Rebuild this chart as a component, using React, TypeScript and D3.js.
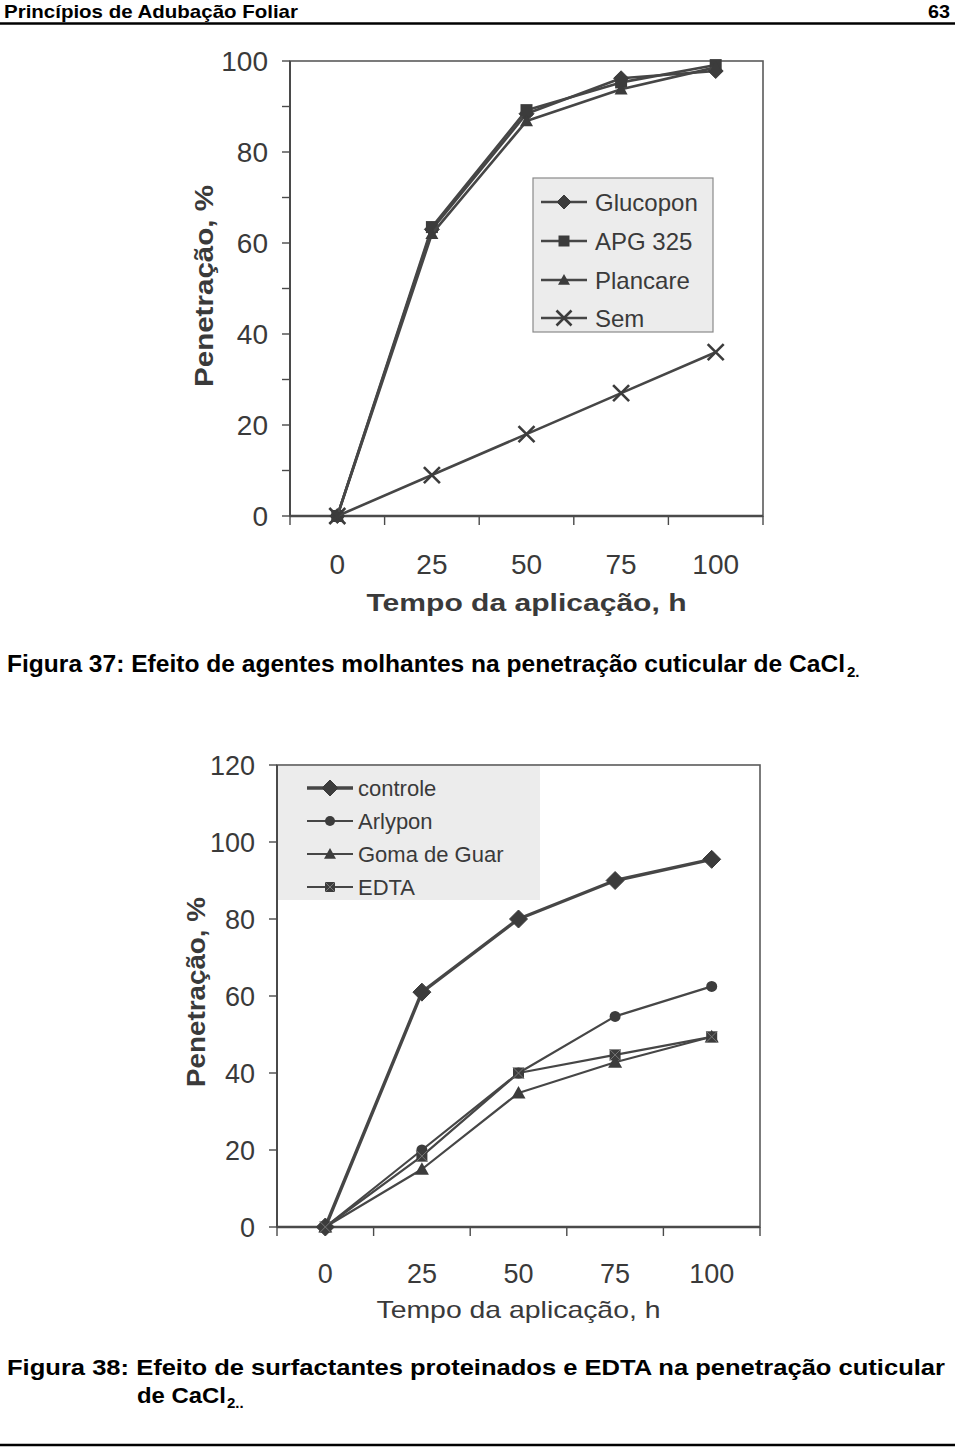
import React from "react";
import * as d3 from "d3";

// ---------- DATA ----------
const categories = ["0", "25", "50", "75", "100"];

// Figura 37
const fig37Names = ["Glucopon", "APG 325", "Plancare", "Sem"];
const glucopon = [0, 63, 88.4, 96.2, 97.8];
const apg325 = [0, 63.5, 89.2, 95.3, 99.1];
const plancare = [0, 62, 86.8, 93.8, 98.6];
const sem = [0, 9, 18, 27, 36];
const fig37Ticks = [0, 20, 40, 60, 80, 100];
const fig37Minor = [10, 30, 50, 70, 90];

// Figura 38
const fig38Names = ["controle", "Arlypon", "Goma de Guar", "EDTA"];
const controle = [0, 61, 80, 90, 95.5];
const arlypon = [0, 20, 40, 54.7, 62.5];
const gomaDeGuar = [0, 15, 34.8, 42.8, 49.4];
const edta = [0, 18.4, 40, 44.7, 49.4];
const fig38Ticks = [0, 20, 40, 60, 80, 100, 120];

const FONT = "'Liberation Sans', Arial, Helvetica, sans-serif";
const NARROW = "'Liberation Sans Narrow', 'Liberation Sans', Arial, sans-serif";
const TXT = "#3a3a3a";
const LINE = "#464646";

type MarkerType = "diamond" | "square" | "triangle" | "x" | "circle" | "squareX";

function Marker({ type, x, y, s }: { type: MarkerType; x: number; y: number; s: number }) {
  const c = "#3c3c3c";
  if (type === "diamond") {
    return <path d={`M${x},${y - s}L${x + s},${y}L${x},${y + s}L${x - s},${y}Z`} fill={c} stroke={c} strokeWidth={1} />;
  }
  if (type === "square") {
    return <rect x={x - s} y={y - s} width={2 * s} height={2 * s} fill={c} />;
  }
  if (type === "squareX") {
    return (
      <g>
        <rect x={x - s} y={y - s} width={2 * s} height={2 * s} fill={c} />
        <path d={`M${x - s},${y - s}L${x + s},${y + s}M${x + s},${y - s}L${x - s},${y + s}`} stroke="#777" strokeWidth={1} />
      </g>
    );
  }
  if (type === "triangle") {
    return <path d={`M${x},${y - s}L${x + s},${y + s * 0.8}L${x - s},${y + s * 0.8}Z`} fill={c} />;
  }
  if (type === "circle") {
    return <circle cx={x} cy={y} r={s} fill={c} />;
  }
  return <path d={`M${x - s},${y - s}L${x + s},${y + s}M${x + s},${y - s}L${x - s},${y + s}`} stroke={c} strokeWidth={2.6} fill="none" />;
}

type Series = { name: string; values: number[]; marker: MarkerType; ms: number; lw: number; legMs: number };

type ChartProps = {
  left: number; right: number; top: number; bottom: number;
  yMax: number; ticks: number[]; minor: number[];
  series: Series[];
  tickFont: number;
  xLabelY: number;
  xTitleY: number; xTitleLen: number; xTitleBold: boolean;
  yTitleX: number; yTitleY: number; yTitleLen: number;
  legend: { x: number; y: number; w: number; h: number; border: boolean; rowY: number[]; lineX0: number; lineX1: number; textX: number; font: number };
};

function Chart(p: ChartProps) {
  const xb = d3.scaleBand<string>().domain(categories).range([p.left, p.right]).padding(0);
  const xc = (c: string) => (xb(c) as number) + xb.bandwidth() / 2;
  const y = d3.scaleLinear().domain([0, p.yMax]).range([p.bottom, p.top]);
  const line = d3.line<number>().x((_, i) => xc(categories[i])).y((v) => y(v));
  const bounds = categories.map((c) => xb(c) as number).concat([p.right]);
  const L = p.legend;
  return (
    <g>
      <rect x={p.left} y={p.top} width={p.right - p.left} height={p.bottom - p.top} fill="#fff" stroke="#5a5a5a" strokeWidth={1.6} />
      <rect x={L.x} y={L.y} width={L.w} height={L.h} fill="#ececec" stroke={L.border ? "#8a8a8a" : "none"} strokeWidth={1.2} />
      <line x1={p.left} x2={p.left} y1={p.top} y2={p.bottom} stroke="#4a4a4a" strokeWidth={2} />
      <line x1={p.left} x2={p.right} y1={p.bottom} y2={p.bottom} stroke="#4a4a4a" strokeWidth={2.4} />
      {p.ticks.map((t) => (
        <g key={"t" + t}>
          <line x1={p.left - 8} x2={p.left} y1={y(t)} y2={y(t)} stroke="#4a4a4a" strokeWidth={1.4} />
          <text x={p.left - 22} y={y(t) + p.tickFont * 0.36} textAnchor="end" fontFamily={FONT} fontSize={p.tickFont} fill={TXT}>{t}</text>
        </g>
      ))}
      {p.minor.map((t) => (
        <line key={"m" + t} x1={p.left - 8} x2={p.left} y1={y(t)} y2={y(t)} stroke="#4a4a4a" strokeWidth={1.4} />
      ))}
      {bounds.map((b, i) => (
        <line key={"b" + i} x1={b} x2={b} y1={p.bottom} y2={p.bottom + 9} stroke="#4a4a4a" strokeWidth={1.4} />
      ))}
      {categories.map((c) => (
        <text key={"c" + c} x={xc(c)} y={p.xLabelY} textAnchor="middle" fontFamily={FONT} fontSize={p.tickFont} fill={TXT}>{c}</text>
      ))}
      <text x={(p.left + p.right) / 2} y={p.xTitleY} textAnchor="middle" fontFamily={FONT} fontWeight={p.xTitleBold ? "bold" : "normal"} fontSize={24} fill={TXT} textLength={p.xTitleLen} lengthAdjust="spacingAndGlyphs">Tempo da aplicação, h</text>
      <text transform={`translate(${p.yTitleX},${p.yTitleY}) rotate(-90)`} textAnchor="middle" fontFamily={FONT} fontWeight="bold" fontSize={25} fill={TXT} textLength={p.yTitleLen} lengthAdjust="spacingAndGlyphs">Penetração, %</text>
      {p.series.map((s) => (
        <g key={s.name}>
          <path d={line(s.values) as string} fill="none" stroke={LINE} strokeWidth={s.lw} strokeLinejoin="round" />
          {s.values.map((v, i) => (
            <Marker key={i} type={s.marker} x={xc(categories[i])} y={y(v)} s={s.ms} />
          ))}
        </g>
      ))}
      {p.series.map((s, i) => (
        <g key={"l" + s.name}>
          <line x1={L.lineX0} x2={L.lineX1} y1={L.rowY[i]} y2={L.rowY[i]} stroke={LINE} strokeWidth={s.lw} />
          <Marker type={s.marker} x={(L.lineX0 + L.lineX1) / 2} y={L.rowY[i]} s={s.legMs} />
          <text x={L.textX} y={L.rowY[i] + L.font * 0.36} fontFamily={FONT} fontSize={L.font} fill={TXT}>{s.name}</text>
        </g>
      ))}
    </g>
  );
}

export default function App() {
  const s37: Series[] = [
    { name: fig37Names[0], values: glucopon, marker: "diamond", ms: 7.5, lw: 2.6, legMs: 7 },
    { name: fig37Names[1], values: apg325, marker: "square", ms: 6, lw: 2.6, legMs: 5.5 },
    { name: fig37Names[2], values: plancare, marker: "triangle", ms: 6.5, lw: 2.6, legMs: 6 },
    { name: fig37Names[3], values: sem, marker: "x", ms: 8, lw: 2.6, legMs: 7.5 },
  ];
  const s38: Series[] = [
    { name: fig38Names[0], values: controle, marker: "diamond", ms: 9, lw: 3.4, legMs: 8 },
    { name: fig38Names[1], values: arlypon, marker: "circle", ms: 5.5, lw: 2.2, legMs: 5 },
    { name: fig38Names[2], values: gomaDeGuar, marker: "triangle", ms: 7, lw: 2.2, legMs: 6 },
    { name: fig38Names[3], values: edta, marker: "squareX", ms: 5.5, lw: 2.2, legMs: 5 },
  ];
  return (
    <svg width={960} height={1448} style={{ position: "absolute", left: 0, top: 0, background: "#fff" }}>
      <rect x={0} y={0} width={960} height={1448} fill="#fff" />
      <text x={4} y={18} fontFamily={NARROW} fontWeight="bold" fontSize={19} fill="#000" textLength={294} lengthAdjust="spacingAndGlyphs">Princípios de Adubação Foliar</text>
      <text x={950} y={18} textAnchor="end" fontFamily={NARROW} fontWeight="bold" fontSize={19} fill="#000" textLength={22} lengthAdjust="spacingAndGlyphs">63</text>
      <line x1={0} x2={955} y1={23.5} y2={23.5} stroke="#000" strokeWidth={2.5} />

      <Chart
        left={290} right={763} top={61} bottom={516}
        yMax={100} ticks={fig37Ticks} minor={fig37Minor}
        series={s37} tickFont={28}
        xLabelY={574} xTitleY={611} xTitleLen={320} xTitleBold={true}
        yTitleX={213} yTitleY={286} yTitleLen={202}
        legend={{ x: 533, y: 178, w: 180, h: 154, border: true, rowY: [202, 241, 280, 318], lineX0: 541, lineX1: 587, textX: 595, font: 24 }}
      />

      <text x={7} y={672} fontFamily={NARROW} fontWeight="bold" fontSize={23} fill="#000" textLength={838} lengthAdjust="spacingAndGlyphs">Figura 37: Efeito de agentes molhantes na penetração cuticular de CaCl</text>
      <text x={847} y={677} fontFamily={NARROW} fontWeight="bold" fontSize={15} fill="#000">2.</text>

      <Chart
        left={277} right={760} top={765} bottom={1227}
        yMax={120} ticks={fig38Ticks} minor={[]}
        series={s38} tickFont={27}
        xLabelY={1283} xTitleY={1318} xTitleLen={284} xTitleBold={false}
        yTitleX={205} yTitleY={992} yTitleLen={190}
        legend={{ x: 278, y: 766, w: 262, h: 134, border: false, rowY: [788, 821, 854, 887], lineX0: 307, lineX1: 353, textX: 358, font: 22 }}
      />

      <text x={7} y={1375} fontFamily={NARROW} fontWeight="bold" fontSize={22} fill="#000" textLength={938} lengthAdjust="spacingAndGlyphs">Figura 38: Efeito de surfactantes proteinados e EDTA na penetração cuticular</text>
      <text x={137} y={1403} fontFamily={NARROW} fontWeight="bold" fontSize={22} fill="#000" textLength={89} lengthAdjust="spacingAndGlyphs">de CaCl</text>
      <text x={227} y={1408} fontFamily={NARROW} fontWeight="bold" fontSize={15} fill="#000">2..</text>
      <line x1={0} x2={955} y1={1445} y2={1445} stroke="#000" strokeWidth={2.5} />
    </svg>
  );
}
